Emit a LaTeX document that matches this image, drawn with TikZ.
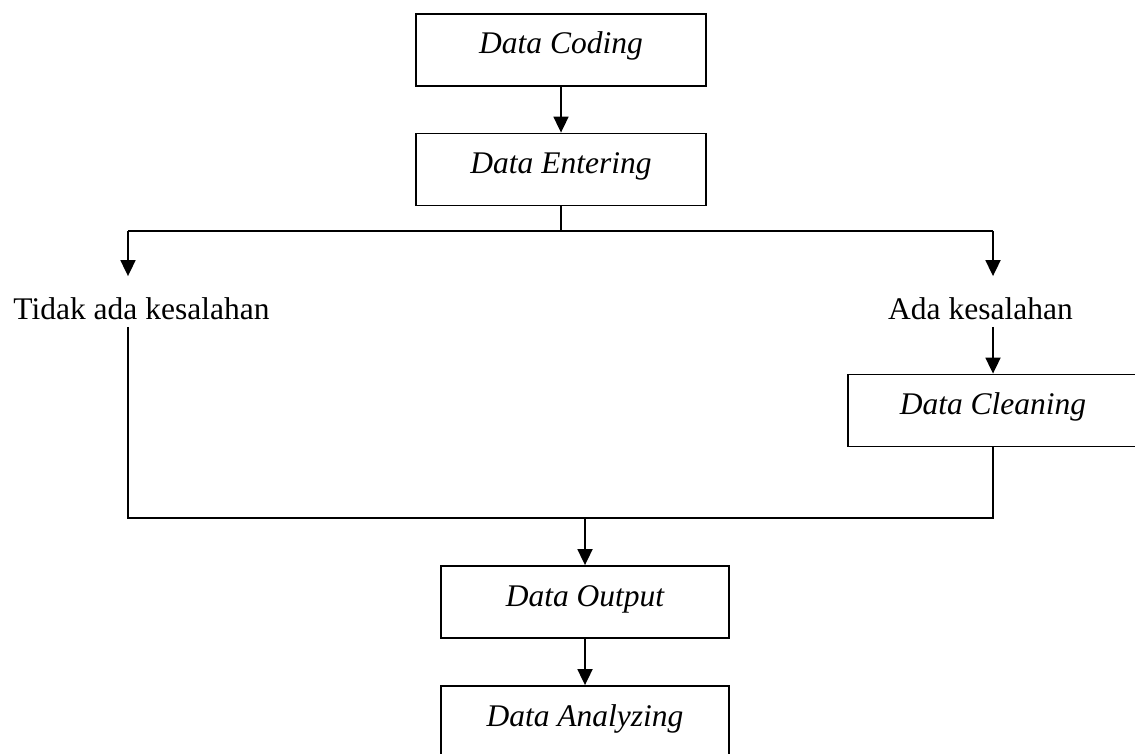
\documentclass[tikz,border=0pt]{standalone}
\usepackage{fontspec}
\setmainfont{Liberation Serif}
\usetikzlibrary{arrows.meta}
\begin{document}
\begin{tikzpicture}[x=0.5pt,y=-0.5pt,
  line width=0.9pt,
  font=\fontsize{15.75}{19}\selectfont,
  box/.style={draw, rectangle, inner sep=0pt, minimum width=145pt, minimum height=36pt,
    text height=8pt, text depth=4pt, font=\fontsize{15.75}{19}\selectfont\itshape},
  lbl/.style={inner sep=0pt, anchor=base, text height=21.5pt, text depth=3pt},
  arr/.style={-{Triangle[length=8pt,width=7.5pt]}}]
\useasboundingbox (0,0) rectangle (1135,754);
\node[box] (coding) at (561,50) {Data Coding};
\node[box] (entering) at (561,169.5) {Data Entering};
\node[lbl] (tidak) at (141.5,320) {Tidak ada kesalahan};
\node[lbl] (ada) at (980.5,320) {Ada kesalahan};
\node[box] (cleaning) at (993,410.5) {Data Cleaning};
\node[box, minimum width=144pt] (output) at (585,602) {Data Output};
\node[box, minimum width=144pt] (analyzing) at (585,722) {Data Analyzing};
\coordinate (top) at (561,231);
\coordinate (tl) at (128,231);
\coordinate (tr) at (993,231);
\coordinate (bot) at (585,518);
\draw[arr] (coding) -- (entering);
\draw (entering.south) -- (top);
\draw[arr] (tl) -- (tl |- tidak.north);
\draw[arr] (tr) -- (tr |- ada.north);
\draw (tl) -- (tr);
\draw[arr] (tr |- ada.south) -- (cleaning.north);
\draw (tl |- tidak.south) |- (bot) -| (cleaning.south);
\draw[arr] (bot) -- (output.north);
\draw[arr] (output) -- (analyzing);
\end{tikzpicture}
\end{document}
